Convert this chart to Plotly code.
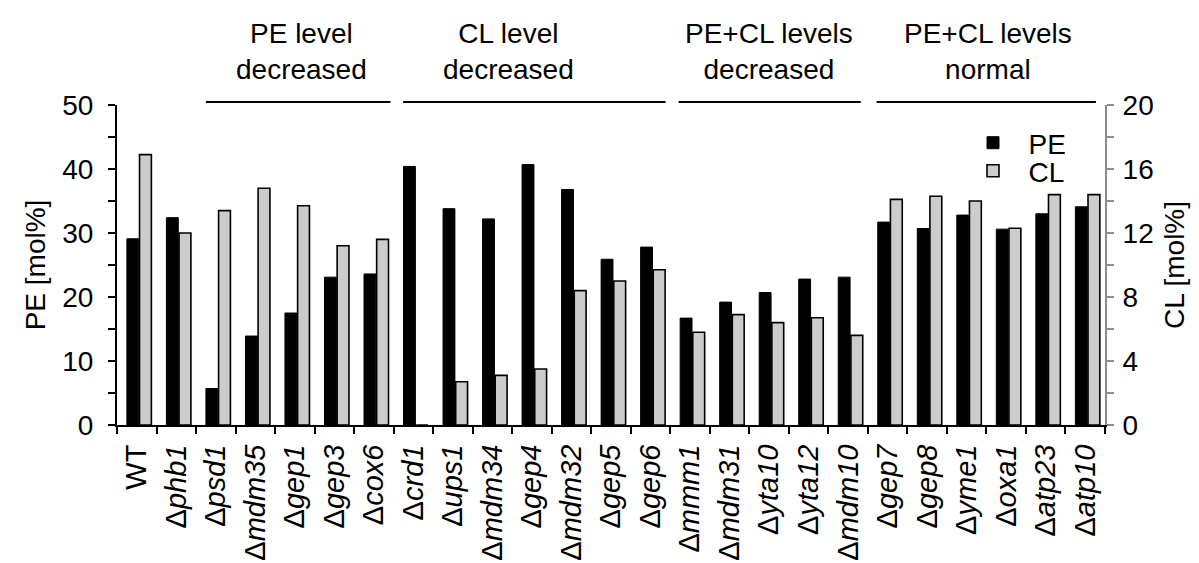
import plotly.graph_objects as go

categories = ["WT", "Δ<i>phb1</i>", "Δ<i>psd1</i>", "Δ<i>mdm35</i>", "Δ<i>gep1</i>", "Δ<i>gep3</i>",
              "Δ<i>cox6</i>", "Δ<i>crd1</i>", "Δ<i>ups1</i>", "Δ<i>mdm34</i>", "Δ<i>gep4</i>",
              "Δ<i>mdm32</i>", "Δ<i>gep5</i>", "Δ<i>gep6</i>", "Δ<i>mmm1</i>", "Δ<i>mdm31</i>",
              "Δ<i>yta10</i>", "Δ<i>yta12</i>", "Δ<i>mdm10</i>", "Δ<i>gep7</i>", "Δ<i>gep8</i>",
              "Δ<i>yme1</i>", "Δ<i>oxa1</i>", "Δ<i>atp23</i>", "Δ<i>atp10</i>"]

pe_values = [29.1, 32.4, 5.7, 13.9, 17.5, 23.1, 23.6, 40.4, 33.8, 32.2, 40.7, 36.8, 25.9,
             27.8, 16.7, 19.2, 20.7, 22.8, 23.1, 31.7, 30.7, 32.8, 30.6, 33.0, 34.1]
cl_values = [16.9, 12.0, 13.4, 14.8, 13.7, 11.2, 11.6, 0.0, 2.7, 3.1, 3.5, 8.4, 9.0,
             9.7, 5.8, 6.9, 6.4, 6.7, 5.6, 14.1, 14.3, 14.0, 12.3, 14.4, 14.4]

groups = ["PE level<br>decreased", "CL level<br>decreased",
          "PE+CL levels<br>decreased", "PE+CL levels<br>normal"]
group_spans = [(1.75, 6.42), (6.74, 13.38), (13.71, 18.32), (18.72, 24.27)]
group_text_x = [4.16, 9.40, 16.01, 21.54]

FONT = "Arial, Liberation Sans, Helvetica, sans-serif"
W, H = 1199, 563
L, R, T, B = 109, 102, 97, 146
ph = H - T - B
pw = W - L - R

fig = go.Figure()
fig.add_trace(go.Bar(
    x=categories, y=pe_values, name="\u00a0\u00a0PE", yaxis="y", legend="legend",
    showlegend=True,
    marker=dict(color="black", line=dict(color="black", width=1)),
    offset=-0.25, width=0.30,
))
fig.add_trace(go.Bar(
    x=categories, y=cl_values, name="\u00a0\u00a0CL", yaxis="y2", legend="legend2",
    showlegend=True,
    marker=dict(color="#cccccc", line=dict(color="black", width=1.6)),
    offset=0.07, width=0.30,
))

def py(px):
    return (H - B - px) / ph

for (x0, x1) in group_spans:
    fig.add_shape(type="line", xref="x", yref="paper", x0=x0, x1=x1, y0=py(94), y1=py(94),
                  line=dict(color="black", width=2))
for txt, xc in zip(groups, group_text_x):
    fig.add_annotation(text=txt, xref="x", yref="paper", x=xc, y=py(43), showarrow=False,
                       xanchor="center", yanchor="middle",
                       font=dict(family=FONT, size=28, color="black"))

legend_common = dict(xanchor="left", yanchor="middle", bgcolor="rgba(0,0,0,0)",
                     font=dict(family=FONT, size=28, color="black"),
                     itemclick=False, itemdoubleclick=False, visible=True)

fig.update_layout(
    width=W, height=H,
    margin=dict(l=L, r=R, t=T, b=B, autoexpand=False),
    paper_bgcolor="white", plot_bgcolor="white",
    barmode="overlay",
    showlegend=True,
    font=dict(family=FONT, size=28, color="black"),
    hovermode=False,
    legend=dict(x=(965 - L) / pw, y=py(135), **legend_common),
    legend2=dict(x=(965 - L) / pw, y=py(163), **legend_common),
    xaxis=dict(
        type="category", range=[-0.5, 24.5],
        showline=True, linecolor="black", linewidth=2,
        ticks="outside", tickson="boundaries", ticklen=7, tickwidth=2, tickcolor="black",
        tickangle=-90, tickfont=dict(family=FONT, size=29, color="black"),
        ticklabelstandoff=6,
        showgrid=False, zeroline=False, fixedrange=True,
    ),
    yaxis=dict(
        range=[0, 50], dtick=10, tick0=0,
        showline=True, linecolor="black", linewidth=2,
        ticks="outside", ticklen=7, tickwidth=2, tickcolor="black",
        minor=dict(dtick=5, ticks="outside", ticklen=7, tickwidth=2, tickcolor="black", showgrid=False),
        tickfont=dict(family=FONT, size=28, color="black"),
        ticklabelstandoff=9,
        title=dict(text="PE [mol%]", font=dict(family=FONT, size=28, color="black"), standoff=8),
        showgrid=False, zeroline=False, fixedrange=True,
    ),
    yaxis2=dict(
        range=[0, 20], dtick=4, tick0=0, overlaying="y", side="right",
        showline=True, linecolor="#8c8c8c", linewidth=2,
        ticks="outside", ticklen=7, tickwidth=2, tickcolor="#8c8c8c",
        minor=dict(dtick=2, ticks="outside", ticklen=7, tickwidth=2, tickcolor="#8c8c8c", showgrid=False),
        tickfont=dict(family=FONT, size=28, color="black"),
        ticklabelstandoff=3,
        title=dict(text="CL [mol%]", font=dict(family=FONT, size=28, color="black"), standoff=12),
        showgrid=False, zeroline=False, fixedrange=True,
    ),
)

fig.write_html("out.html", config={"displayModeBar": False})
